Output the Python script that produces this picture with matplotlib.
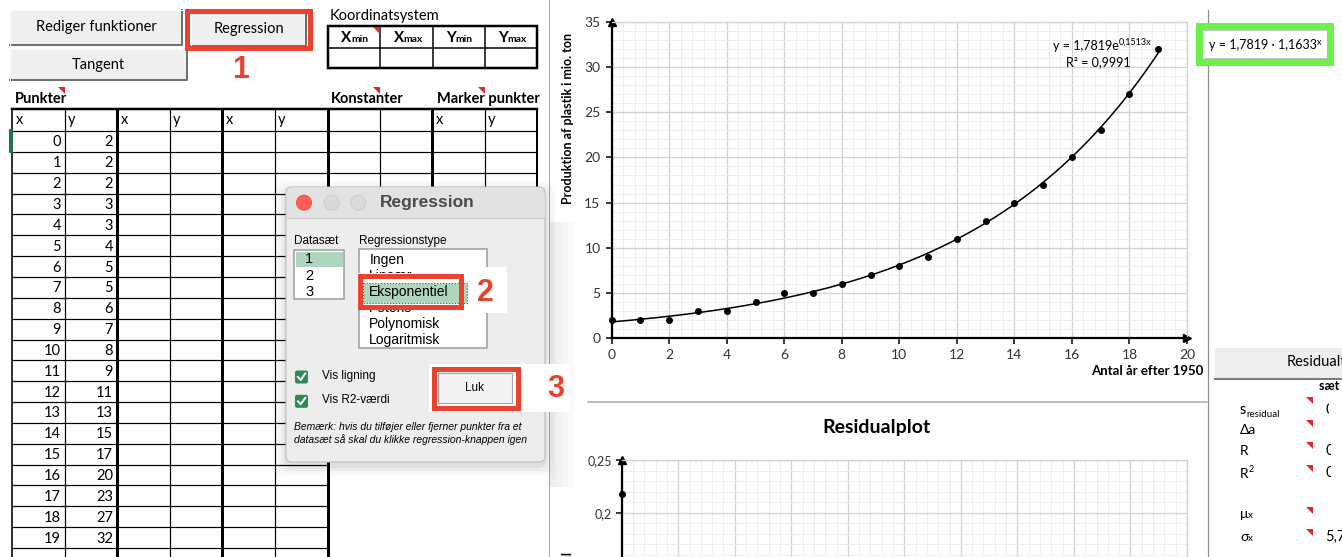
import numpy as np
import matplotlib
matplotlib.use('Agg')
import matplotlib.pyplot as plt
from matplotlib.patches import Rectangle, Polygon, Circle, FancyBboxPatch
from matplotlib.ticker import MultipleLocator, FuncFormatter

plt.rcParams['font.family'] = ['Lato', 'DejaVu Sans']

# data: plastic production (mio. ton) vs years after 1950
aar = [0, 1, 2, 3, 4, 5, 6, 7, 8, 9, 10, 11, 12, 13, 14, 15, 16, 17, 18, 19]
prod = [2, 2, 2, 3, 3, 4, 5, 5, 6, 7, 8, 9, 11, 13, 15, 17, 20, 23, 27, 32]
fit_a = 1.7819      # y = a * e^(k x)
fit_k = 0.1513
fit_b = 1.1633      # e^k
fit_r2 = 0.9991
res_x = [0]          # only residual point visible in residual plot
res_y = [0.218]

datasaet = ['1', '2', '3']
regtyper = ['Ingen', 'Lineær', 'Eksponentiel', 'Potens', 'Polynomisk', 'Logaritmisk']
koord_hdr = [('X', 'min'), ('X', 'max'), ('Y', 'min'), ('Y', 'max')]
stat_vals = ['0', '', '0', '0', '', '5,77']

W, H = 1342, 557
PX = 0.72
ROD = '#e8432e'
TRI = '#e3262b'
SANS = ['Liberation Sans', 'DejaVu Sans']

fig = plt.figure(figsize=(W / 100, H / 100), dpi=100)


def box(x0, y0, x1, y1):
    return [x0 / W, 1 - y1 / H, (x1 - x0) / W, (y1 - y0) / H]


# ---------------- main chart ----------------
ax = fig.add_axes(box(611.7, 22, 1187, 338))
ax.set_xlim(0, 20)
ax.set_ylim(0, 35)
ax.xaxis.set_major_locator(MultipleLocator(2))
ax.xaxis.set_minor_locator(MultipleLocator(0.4))
ax.yaxis.set_major_locator(MultipleLocator(5))
ax.yaxis.set_minor_locator(MultipleLocator(1))
ax.grid(which='minor', color='#eeeeee', lw=0.7)
ax.grid(which='major', color='#d2d2d2', lw=0.9)
ax.set_axisbelow(True)
for s in ['top', 'right']:
    ax.spines[s].set_color('#d2d2d2')
    ax.spines[s].set_linewidth(0.9)
for s in ['left', 'bottom']:
    ax.spines[s].set_color('black')
    ax.spines[s].set_linewidth(1.6)
ax.tick_params(which='major', length=4, width=1.1, labelsize=10, labelcolor='#333333', pad=4)
ax.tick_params(which='minor', length=0)
xs = np.linspace(0, 19, 200)
ax.plot(xs, fit_a * np.exp(fit_k * xs), color='black', lw=1.1)
ax.scatter(aar, prod, s=16, color='black', zorder=3, clip_on=False)
ax.plot([0], [35], marker='^', ms=6, color='black', clip_on=False)
ax.plot([20], [0], marker='>', ms=6, color='black', clip_on=False)

# ---------------- residual plot ----------------
rax = fig.add_axes(box(621.7, 460, 1187, 557))
rax.set_xlim(0, 20)
rax.set_ylim(0.158, 0.25)
rax.xaxis.set_major_locator(MultipleLocator(2))
rax.xaxis.set_minor_locator(MultipleLocator(0.4))
rax.yaxis.set_major_locator(MultipleLocator(0.05))
rax.yaxis.set_minor_locator(MultipleLocator(0.01))
rax.yaxis.set_major_formatter(FuncFormatter(lambda v, p: f'{v:g}'.replace('.', ',')))
rax.grid(which='minor', color='#eeeeee', lw=0.7)
rax.grid(which='major', color='#d2d2d2', lw=0.9)
rax.set_axisbelow(True)
rax.spines['bottom'].set_visible(False)
for s in ['top', 'right']:
    rax.spines[s].set_color('#d2d2d2')
    rax.spines[s].set_linewidth(0.9)
rax.spines['left'].set_linewidth(1.6)
rax.tick_params(axis='x', which='both', length=0, labelbottom=False)
rax.tick_params(axis='y', which='major', length=4, width=1.1, labelsize=9, labelcolor='#333333', pad=3)
rax.tick_params(axis='y', which='minor', length=0)
rax.scatter(res_x, res_y, s=16, color='black', zorder=3, clip_on=False)
rax.plot([0], [0.25], marker='^', ms=6, color='black', clip_on=False)

# ---------------- overlay (spreadsheet, dialog, annotations) ----------------
bg = fig.add_axes([0, 0, 1, 1], zorder=3)
bg.set_xlim(0, W)
bg.set_ylim(H, 0)
bg.axis('off')
rend = fig.canvas.get_renderer()


def hline(y, x0, x1, lw=1.0, c='black', z=2):
    bg.plot([x0, x1], [y, y], color=c, lw=lw * PX, zorder=z, solid_capstyle='projecting')


def vline(x, y0, y1, lw=1.0, c='black', z=2):
    bg.plot([x, x], [y0, y1], color=c, lw=lw * PX, zorder=z, solid_capstyle='projecting')


def txt(x, y, s, **kw):
    kw.setdefault('va', 'center')
    kw.setdefault('fontsize', 10.5)
    kw.setdefault('zorder', 5)
    return bg.text(x, y, s, **kw)


def rich(x, y, parts, **kw):
    # parts: (text, fontsize, dy) drawn one after another on a baseline
    kw.setdefault('zorder', 5)
    for s, fs, dy in parts:
        t = bg.text(x, y + dy, s, fontsize=fs, va='baseline', **kw)
        x = t.get_window_extent(renderer=rend).x1
    return x


def tri(x, y, s=7):
    bg.add_patch(Polygon([(x, y), (x + s, y), (x + s, y + s)], closed=True, fc=TRI, ec='none', zorder=6))


def knap(x0, y0, x1, y1, s, fs=10.5, z=3):
    bg.add_patch(Rectangle((x0, y0), x1 - x0, y1 - y0, fc='#efefef', ec='none', zorder=z))
    bg.plot([x0, x1, x1], [y1, y1, y0], color='#707070', lw=2 * PX, zorder=z)
    bg.plot([x0, x0, x1], [y1, y0, y0], color='#fafafa', lw=1 * PX, zorder=z)
    txt((x0 + x1) / 2, (y0 + y1) / 2, s, ha='center', fontsize=fs, zorder=z + 1)


# separators
vline(549, 0, 557, 1, '#a8a8a8')
vline(1207.5, 10, 557, 1.2, '#8c8c8c')
hline(402, 588, 1207, 1.5, '#a8a8a8')
for k, c in enumerate(['#eeeeee', '#f2f2f2', '#f6f6f6', '#fafafa']):
    bg.add_patch(Rectangle((549.5 + 6 * k, 222), 6, 265, fc=c, ec='none', zorder=1))

# buttons
knap(10, 10, 182, 45, 'Rediger funktioner')
knap(191, 13, 306, 46, 'Regression')
knap(10, 49, 187, 80, 'Tangent')
bg.add_patch(Rectangle((186.5, 10.5), 123, 37.5, fill=False, ec=ROD, lw=5 * PX, zorder=6))
txt(241, 70, '1', color=ROD, fontsize=22, fontweight='bold', family=SANS, ha='center')

# Koordinatsystem
txt(330, 16, 'Koordinatsystem', fontsize=10.5)
kx = [328, 380, 433, 485, 537]
bg.add_patch(Rectangle((328, 26), 209, 42, fill=False, ec='black', lw=2.5 * PX, zorder=2))
for x in kx[1:-1]:
    vline(x, 26, 68, 1.5)
hline(48, 328, 537, 1.5)
for i, (a, b) in enumerate(koord_hdr):
    cx = (kx[i] + kx[i + 1]) / 2
    rich(cx - 13, 42, [(a, 11, 0), (b, 7.5, 0)], fontweight='bold')
tri(373, 27)

# Punkter table
txt(15, 99, 'Punkter', fontweight='bold')
tri(58, 87)
txt(331, 99, 'Konstanter', fontweight='bold')
tri(373, 87)
txt(437, 99, 'Marker punkter', fontweight='bold')
tri(478, 87)

rh = 20.85
row_top = 131
hline(109, 12, 537, 2.5)
hline(row_top, 12, 537, 1.2)
for i in range(1, 22):
    hline(row_top + i * rh, 12, 328, 1.2)
for i in range(1, 16):
    hline(row_top + i * rh, 328, 537, 1.2)
vline(12, 109, 557, 1.6)
for x in [65, 170, 275]:
    vline(x, 109, 557, 1.2)
for x in [117, 222, 328]:
    vline(x, 109, 557, 3)
vline(380, 109, 445, 1.2)
vline(432, 109, 445, 3)
vline(485, 109, 445, 1.2)
vline(537, 109, 445, 2)
for x in [12, 117, 222, 432]:
    txt(x + 4, 120, 'x')
    txt(x + 56, 120, 'y')
for i, (xv, yv) in enumerate(zip(aar, prod)):
    yc = row_top + (i + 0.5) * rh + 1
    txt(61, yc, str(xv), ha='right')
    txt(113, yc, str(yv), ha='right')
bg.add_patch(Rectangle((9, 129), 3.5, 24, fc='#217346', ec='none', zorder=3))

# ---------------- dialog ----------------
dx0, dy0, dx1, dy1 = 286, 187, 545, 462
for k, a in enumerate([0.05, 0.035, 0.025, 0.015]):
    p = 2 + 3 * k
    bg.add_patch(FancyBboxPatch((dx0 - p, dy0 - p + 4), dx1 - dx0 + 2 * p, dy1 - dy0 + 2 * p,
                                boxstyle='round,pad=0,rounding_size=9', fc='black', ec='none',
                                alpha=a, zorder=9))
bg.add_patch(FancyBboxPatch((dx0, dy0), dx1 - dx0, dy1 - dy0, boxstyle='round,pad=0,rounding_size=6',
                            fc='#ededed', ec='#bdbdbd', lw=0.8, zorder=10))
bg.add_patch(FancyBboxPatch((dx0 + 0.5, dy0 + 0.5), dx1 - dx0 - 1, 30, boxstyle='round,pad=0,rounding_size=6',
                            fc='#e2e2e2', ec='none', zorder=10.5))
bg.add_patch(Rectangle((dx0 + 0.5, dy0 + 12), dx1 - dx0 - 1, 19, fc='#e2e2e2', ec='none', zorder=10.5))
hline(218, dx0 + 1, dx1 - 1, 0.8, '#c4c4c4', z=11)
bg.add_patch(Circle((304, 202.7), 7.5, fc='#fd5e56', ec='#e14942', lw=0.6, zorder=11))
for cx in [331.7, 358.3]:
    bg.add_patch(Circle((cx, 202.7), 7.5, fc='#dadada', ec='#c8c8c8', lw=0.6, zorder=11))
txt(427, 203, 'Regression', fontweight='bold', fontsize=12.5, color='#4a4a4a', family=SANS, ha='center', zorder=12)

# list: datasæt
txt(294, 240.7, 'Datasæt', fontsize=8.5, family=SANS, zorder=12)
bg.add_patch(Rectangle((294, 250), 50.3, 49.3, fc='white', ec='#9a9a9a', lw=1.5 * PX, zorder=11))
bg.add_patch(Rectangle((295.5, 251.7), 47.3, 15, fc='#aed5bd', ec='none', zorder=11.5))
for i, s in enumerate(datasaet):
    txt(305, 259.3 + i * 16.2, s, fontsize=10.5, family=SANS, zorder=12)

# list: regressionstype
txt(359, 240.7, 'Regressionstype', fontsize=8.5, family=SANS, zorder=12)
bg.add_patch(Rectangle((359, 249.3), 128.3, 99, fc='white', ec='#9a9a9a', lw=1.5 * PX, zorder=11))
for i, s in enumerate(regtyper):
    txt(369.3, 260 + i * 16.05, s, fontsize=10, family=SANS, zorder=12)
# red annotation box 2 (screenshot overlay)
bg.add_patch(Rectangle((357, 273), 106, 36, fc='white', ec='none', zorder=13))
bg.add_patch(Rectangle((362.7, 282.7), 104, 20.6, fc='#aed5bd', ec='#555555', ls=':', lw=0.8, zorder=13.5))
txt(369.3, 292, regtyper[2], fontsize=10, family=SANS, zorder=14)
bg.add_patch(Rectangle((467, 267), 40, 46, fc='white', ec='none', zorder=13))
bg.add_patch(Rectangle((359.5, 275.5), 101, 31.3, fill=False, ec=ROD, lw=5 * PX, zorder=15))
txt(485, 293, '2', color=ROD, fontsize=22, fontweight='bold', family=SANS, ha='center', zorder=15)

# checkboxes
for yy, lab in [(377, 'Vis ligning'), (401.3, 'Vis R2-værdi')]:
    bg.add_patch(FancyBboxPatch((295, yy - 6.5), 13, 13, boxstyle='round,pad=0,rounding_size=2',
                                fc='#2f8a57', ec='none', zorder=12))
    bg.plot([298, 300.7, 305.3], [yy, yy + 3, yy - 3.5], color='white', lw=1.4, zorder=13)
    txt(321.7, yy - 1.5, lab, fontsize=8.5, family=SANS, zorder=12)

# Luk button with red box 3
bg.add_patch(Rectangle((520, 364), 50, 48, fc='white', ec='none', zorder=13))
bg.add_patch(Rectangle((429, 364), 92, 48, fc='white', ec='none', zorder=12.5))
bg.add_patch(Rectangle((438.3, 373.3), 73.4, 29.4, fc='#f3f3f3', ec='#a3a3a3', lw=0.8, zorder=13))
txt(475, 388, 'Luk', fontsize=8.5, family=SANS, ha='center', zorder=14)
bg.add_patch(Rectangle((433.5, 368.5), 84.5, 39, fill=False, ec=ROD, lw=5 * PX, zorder=15))
txt(556, 389, '3', color=ROD, fontsize=22, fontweight='bold', family=SANS, ha='center', zorder=15)

txt(294, 426.7, 'Bemærk: hvis du tilføjer eller fjerner punkter fra et', fontsize=7.5,
    style='italic', family=SANS, zorder=12)
txt(294, 439.3, 'datasæt så skal du klikke regression-knappen igen', fontsize=7.5,
    style='italic', family=SANS, zorder=12)

# ---------------- chart texts ----------------
txt(568, 118, 'Produktion af plastik i mio. ton', rotation=90, fontweight='bold', fontsize=9, ha='center')
txt(1203, 371, 'Antal år efter 1950', fontweight='bold', fontsize=9.5, ha='right')
rich(1053, 49.5, [('y = 1,7819e', 9, 0), ('0,1513x', 6.5, -5)])
txt(1098, 62, 'R² = ' + f'{fit_r2}'.replace('.', ','), fontsize=9, ha='center')
txt(877, 427, 'Residualplot', fontweight='bold', fontsize=14, ha='center')
txt(567, 551, 'Residual', rotation=90, fontweight='bold', fontsize=9, ha='center', va='top')

# green highlighted cell
bg.add_patch(Rectangle((1198.5, 25.5), 131, 36.5, fc='white', ec='#6cf04a', lw=7 * PX, zorder=4))
hline(30, 1202, 1326, 1, '#c4c4c4', z=4.5)
hline(58.3, 1202, 1326, 1, '#c4c4c4', z=4.5)
eq = 'y = ' + f'{fit_a}'.replace('.', ',') + ' · ' + f'{fit_b}'.replace('.', ',')
rich(1209, 49, [(eq, 9, 0), ('x', 6.5, -4)])

# residual test panel
bg.add_patch(Rectangle((1215, 348), 127, 30, fc='#eeeeee', ec='none', zorder=3))
hline(378.5, 1215, 1342, 2, '#7a7a7a', z=4)
txt(1287, 362, 'Residualtest', fontsize=10.5)
txt(1319, 386, 'sæt 1', fontweight='bold', fontsize=9)
rich(1240, 414, [('s', 10.5, 0), ('residual', 7, 3)])
rich(1240, 434, [('Δa', 10, 0)])
rich(1240, 455, [('R', 10, 0)])
rich(1240, 478, [('R', 10, 0), ('2', 6.5, -6)])
rich(1240, 518, [('μ', 10, 0), ('x', 7, 0)])
rich(1240, 541, [('σ', 10, 0), ('x', 7, 0)])
for yy in [397, 420, 442, 465, 507, 529]:
    tri(1306, yy)
for yy, s, xc in [(410, stat_vals[0], 1329), (451, stat_vals[2], 1331), (473, stat_vals[3], 1331)]:
    clip = Rectangle((1200, 380), xc - 1200, 120, transform=bg.transData)
    t = txt(1325.5, yy, s, fontsize=10.5, clip_on=True)
    t.set_clip_path(clip)
txt(1325.5, 537, stat_vals[5], fontsize=10.5)

fig.savefig('out.png', dpi=100)
